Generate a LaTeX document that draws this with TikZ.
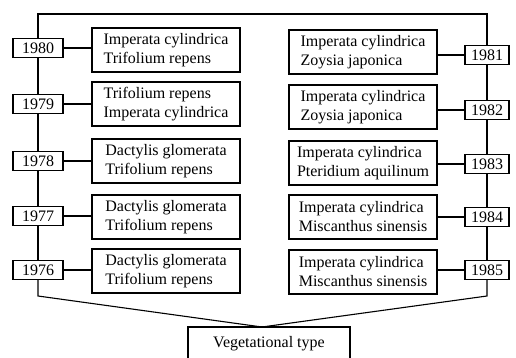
\documentclass[tikz,border=0pt]{standalone}
\usepackage{fontspec}
\setmainfont{Liberation Serif}

\begin{document}
\begin{tikzpicture}[x=1pt,y=-1pt,line width=1.1pt,
		yearbox/.style={draw, fill=white, inner sep=0pt, minimum height=19pt, font=\fontsize{16}{19}\selectfont},
		vegbox/.style={draw, align=left, inner sep=0pt, minimum width=148pt, minimum height=44pt, font=\fontsize{16}{19}\selectfont}]

				\useasboundingbox (0,0) rectangle (516,358);

				\node[yearbox, minimum width=50pt] (yr1980) at (38,48) {1980};
				\node[yearbox, minimum width=50pt] (yr1979) at (38,104) {1979};
				\node[yearbox, minimum width=50pt] (yr1978) at (38,161) {1978};
				\node[yearbox, minimum width=50pt] (yr1977) at (38,216) {1977};
				\node[yearbox, minimum width=50pt] (yr1976) at (38,270) {1976};

				\node[vegbox] (veg1980) at (166,50) {Imperata cylindrica\\Trifolium repens};
				\node[vegbox] (veg1979) at (166,104) {Trifolium repens\\Imperata cylindrica};
				\node[vegbox] (veg1978) at (166,161) {Dactylis glomerata\\Trifolium repens};
				\node[vegbox] (veg1977) at (166,217) {Dactylis glomerata\\Trifolium repens};
				\node[vegbox] (veg1976) at (166,271) {Dactylis glomerata\\Trifolium repens};

				\node[yearbox, minimum width=44pt] (yr1981) at (487,55) {1981};
				\node[yearbox, minimum width=44pt] (yr1982) at (487,110) {1982};
				\node[yearbox, minimum width=44pt] (yr1983) at (487,164) {1983};
				\node[yearbox, minimum width=44pt] (yr1984) at (487,217) {1984};
				\node[yearbox, minimum width=44pt] (yr1985) at (487,270) {1985};

				\node[vegbox] (veg1981) at (363,52) {Imperata cylindrica\\Zoysia japonica};
				\node[vegbox] (veg1982) at (363,107) {Imperata cylindrica\\Zoysia japonica};
				\node[vegbox] (veg1983) at (363,163) {Imperata cylindrica\\Pteridium aquilinum};
				\node[vegbox] (veg1984) at (363,217) {Imperata cylindrica\\Miscanthus sinensis};
				\node[vegbox] (veg1985) at (363,272) {Imperata cylindrica\\Miscanthus sinensis};

				\node[draw, minimum width=162pt, minimum height=34pt, font=\fontsize{16}{19}\selectfont] (lblType) at (269,344) {Vegetational type};

				\coordinate (cornerL) at (38,14);
				\coordinate (cornerR) at (487,14);
				\coordinate (footL) at (38,296);
				\coordinate (footR) at (487,296);
				\coordinate (meet) at (262,327);

				\draw (yr1980.north) -- (cornerL) -- (cornerR) -- (yr1981.north);
				\draw (yr1980.south) -- (yr1979.north);
				\draw (yr1979.south) -- (yr1978.north);
				\draw (yr1978.south) -- (yr1977.north);
				\draw (yr1977.south) -- (yr1976.north);
				\draw (yr1976.south) -- (footL) -- (meet);

				\draw (yr1981.south) -- (yr1982.north);
				\draw (yr1982.south) -- (yr1983.north);
				\draw (yr1983.south) -- (yr1984.north);
				\draw (yr1984.south) -- (yr1985.north);
				\draw (yr1985.south) -- (footR) -- (meet);

				\draw (yr1980.east) -- (veg1980.west |- yr1980.east);
				\draw (yr1979.east) -- (veg1979.west |- yr1979.east);
				\draw (yr1978.east) -- (veg1978.west |- yr1978.east);
				\draw (yr1977.east) -- (veg1977.west |- yr1977.east);
				\draw (yr1976.east) -- (veg1976.west |- yr1976.east);

				\draw (yr1981.west) -- (veg1981.east |- yr1981.west);
				\draw (yr1982.west) -- (veg1982.east |- yr1982.west);
				\draw (yr1983.west) -- (veg1983.east |- yr1983.west);
				\draw (yr1984.west) -- (veg1984.east |- yr1984.west);
				\draw (yr1985.west) -- (veg1985.east |- yr1985.west);

			\end{tikzpicture}
\end{document}
